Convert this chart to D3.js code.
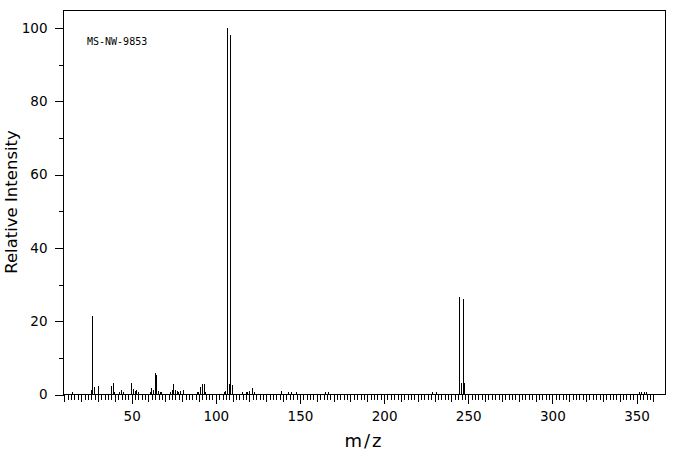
<!DOCTYPE html>
<html>
<head>
<meta charset="utf-8">
<script src="https://cdn.jsdelivr.net/npm/d3@7"></script>
<style>
	body { margin: 0; background: #fff; }
	svg { display: block; }
</style>
</head>
<body>
<script>
const title = "MS-NW-9853";

const mz = [15, 26, 27, 28, 30, 38, 39, 40, 43, 44, 45, 50, 51, 52, 53, 54,
	61, 62, 63, 64, 65, 66, 67, 68, 73, 74, 75, 76, 77, 78, 79, 81,
	89, 90, 91, 92, 93, 94, 105, 106, 107, 108, 109, 110,
	116, 118, 119, 120, 122, 123, 139, 143, 145, 148, 165, 167,
	229, 231, 245, 246, 247, 248, 352, 353, 355, 356];

const intensity = [0.5, 1.1, 21.3, 1.8, 2.2, 2.2, 3.0, 0.5, 0.5, 1.1, 0.5, 3.0, 1.4, 0.8, 1.1, 0.5,
	0.5, 1.6, 1.0, 5.7, 5.3, 0.8, 0.5, 0.5, 0.5, 1.1, 2.7, 1.0, 0.8, 0.5, 0.8, 1.1,
	0.5, 0.5, 1.9, 2.7, 2.7, 0.5, 0.5, 0.8, 100, 2.7, 98.1, 2.5,
	0.5, 0.5, 0.6, 0.8, 1.6, 0.6, 0.8, 0.5, 0.5, 0.5, 0.5, 0.5,
	0.5, 0.5, 26.6, 2.9, 25.9, 2.9, 0.5, 0.5, 0.5, 0.5];

const yticks = [0, 20, 40, 60, 80, 100];
const xticks = [50, 100, 150, 200, 250, 300, 350];

const W = 676, H = 455;
const m = { left: 63, right: 665, top: 10, bottom: 394 };
const font = "DejaVu Sans";

const svg = d3.select("body").append("svg")
	.attr("width", W)
	.attr("height", H);

const x = d3.scaleLinear()
	.domain([9.5, 367.2])
	.range([m.left, m.right]);

const y = d3.scaleLinear()
	.domain([0, 104.8])
	.range([m.bottom, m.top]);

function style_axis(g) {
	g.select(".domain").remove();
	g.selectAll("line").attr("stroke", "#000").attr("shape-rendering", "crispEdges");
	g.selectAll("text")
		.attr("fill", "#000")
		.style("font-size", "13.5px")
		.style("font-family", font);
}

// x ticks: every 2, every 10, labelled every 50
function xaxis(values, size, labels) {
	svg.append("g")
		.attr("transform", `translate(0.5,${m.bottom + 0.5})`)
		.call(d3.axisBottom(x)
			.tickValues(values)
			.tickSize(size)
			.tickSizeOuter(0)
			.tickPadding(8)
			.tickFormat(labels ? d3.format("d") : ""))
		.call(style_axis);
}

xaxis(d3.range(10, 361, 2), 5, false);
xaxis(d3.range(10, 361, 10), 7, false);
xaxis(xticks, 9, true);

function yaxis(values, size, labels) {
	svg.append("g")
		.attr("transform", `translate(${m.left + 0.5},0.5)`)
		.call(d3.axisLeft(y)
			.tickValues(values)
			.tickSize(size)
			.tickSizeOuter(0)
			.tickPadding(7)
			.tickFormat(labels ? d3.format("d") : ""))
		.call(style_axis);
}

yaxis(d3.range(10, 100, 20), 5, false);
yaxis(yticks, 9, true);

svg.append("g")
	.selectAll("line")
	.data(mz)
	.join("line")
	.attr("x1", (d) => Math.round(x(d)) + 0.5)
	.attr("x2", (d) => Math.round(x(d)) + 0.5)
	.attr("y1", y(0))
	.attr("y2", (d, i) => y(intensity[i]))
	.attr("stroke", "#000")
	.attr("stroke-width", 1)
	.attr("shape-rendering", "crispEdges");

svg.append("rect")
	.attr("x", m.left + 0.5)
	.attr("y", m.top + 0.5)
	.attr("width", m.right - m.left)
	.attr("height", m.bottom - m.top)
	.attr("fill", "none")
	.attr("stroke", "#000")
	.attr("shape-rendering", "crispEdges");

svg.append("text")
	.attr("x", 87)
	.attr("y", 44.5)
	.style("font-family", "DejaVu Sans Mono")
	.style("font-size", "10px")
	.text(title);

svg.append("text")
	.attr("transform", `translate(17,${(m.top + m.bottom) / 2})rotate(-90)`)
	.attr("text-anchor", "middle")
	.style("font-family", font)
	.style("font-size", "16.5px")
	.text("Relative Intensity");

svg.append("text")
	.attr("x", 364)
	.attr("y", 447)
	.attr("text-anchor", "middle")
	.style("font-family", font)
	.style("font-size", "18px")
	.style("letter-spacing", "2px")
	.text("m/z");
</script>
</body>
</html>
